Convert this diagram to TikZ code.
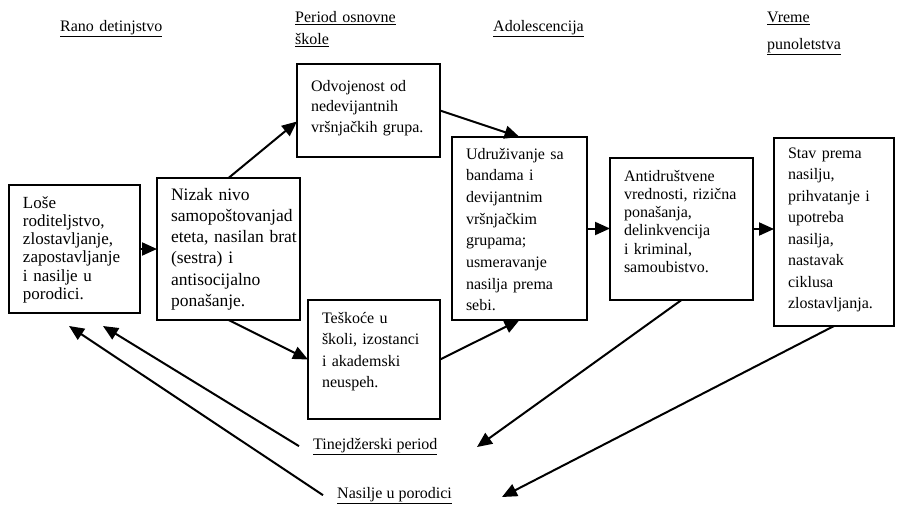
\documentclass[tikz,border=0pt]{standalone}
\usepackage{fontspec}
\setmainfont{Liberation Serif}
\usetikzlibrary{arrows.meta,positioning}

\begin{document}
\begin{tikzpicture}[
  x=1pt, y=-1pt,
  box/.style={rectangle, draw=black, line width=2.8pt, anchor=north west,
    inner xsep=14pt, inner ysep=0pt, outer sep=0pt, align=left},
  tight/.style={box, font=\fontsize{16}{18.3}\selectfont},
  loose/.style={box, font=\fontsize{16}{21.5}\selectfont},
  stage/.style={anchor=north west, inner sep=0pt, text width=130pt, text height=12pt,
    align=left, font=\fontsize{16}{22}\selectfont},
  period/.style={anchor=base west, inner xsep=14pt, inner ysep=0pt, font=\fontsize{16}{19}\selectfont},
  arr/.style={-{Triangle[length=15pt,width=13pt]}, line width=2pt}
]
\useasboundingbox[fill=white] (0,0) rectangle (899,506);

% stages of life
\node[stage] (early) at (60,19) {\underline{Rano detinjstvo}};
\node[stage] (primary) at (295,10) {\underline{Period osnovne}\\\underline{škole}};
\node[stage] (adol) at (493,19) {\underline{Adolescencija}};
\node[stage] (adult) at (767,10) {\underline{Vreme}\\[5pt]\underline{punoletstva}};

% boxes
\node[tight, font=\fontsize{17}{18.3}\selectfont, text width=103pt, text height=23pt, text depth=105pt] (parents) at (9,185)
  {Loše\\roditeljstvo,\\zlostavljanje,\\zapostavljanje\\i nasilje u\\porodici.};
\node[loose, font=\fontsize{17.5}{21.3}\selectfont, text width=115pt, text height=22pt, text depth=120pt] (selfesteem) at (157,178)
  {Nizak nivo\\\mbox{samopoštovanjad}\\\mbox{eteta, nasilan brat}\\(sestra) i\\antisocijalno\\ponašanje.};
\node[loose, font=\fontsize{16}{20.5}\selectfont, text width=115pt, text height=27pt, text depth=66pt] (isolation) at (297,64)
  {Odvojenost od\\nedevijantnih\\vršnjačkih grupa.};
\node[loose, font=\fontsize{16}{21.7}\selectfont, text width=107pt, text height=22pt, text depth=161pt] (gangs) at (452,137)
  {Udruživanje sa\\bandama i\\devijantnim\\vršnjačkim\\grupama;\\usmeravanje\\nasilja prema\\sebi.};
\node[loose, text width=104pt, text height=23pt, text depth=96pt] (school) at (308,300)
  {Teškoće u\\školi, izostanci\\i akademski\\neuspeh.};
\node[tight, text width=115pt, text height=23pt, text depth=119pt] (antisocial) at (610,158)
  {Antidruštvene\\vrednosti, rizična\\ponašanja,\\delinkvencija\\i kriminal,\\samoubistvo.};
\node[loose, text width=92pt, text height=20pt, text depth=168pt] (attitude) at (774,138)
  {Stav prema\\nasilju,\\prihvatanje i\\upotreba\\nasilja,\\nastavak\\ciklusa\\zlostavljanja.};

% feedback labels
\node[period] (teen) at (299,449) {\underline{Tinejdžerski period}};
\node[period] (family) at (323,498) {\underline{Nasilje u porodici}};

\coordinate (teentip) at (103,326);
\coordinate (famtip) at (69,326);
\coordinate (teenin) at (477,447);
\coordinate (famin) at (502,497);

% connectors
\draw[arr] (parents.east) -- (selfesteem.west);
\draw[arr] (selfesteem.north) -- ([yshift=-11pt]isolation.west);
\draw[arr] (isolation.east) -- (gangs.north);
\draw[arr] (selfesteem.south) -- (school.west);
\draw[arr] (school.east) -- (gangs.south);
\draw[arr] (gangs.east) -- (gangs.east -| antisocial.west);
\draw[arr] (antisocial.east) -- (antisocial.east -| attitude.west);
\draw[arr] (antisocial.south) -- (teenin);
\draw[arr] (attitude.south) -- (famin);
\draw[arr] (teen.west) -- (teentip);
\draw[arr] (family.west) -- (famtip);
\end{tikzpicture}
\end{document}
